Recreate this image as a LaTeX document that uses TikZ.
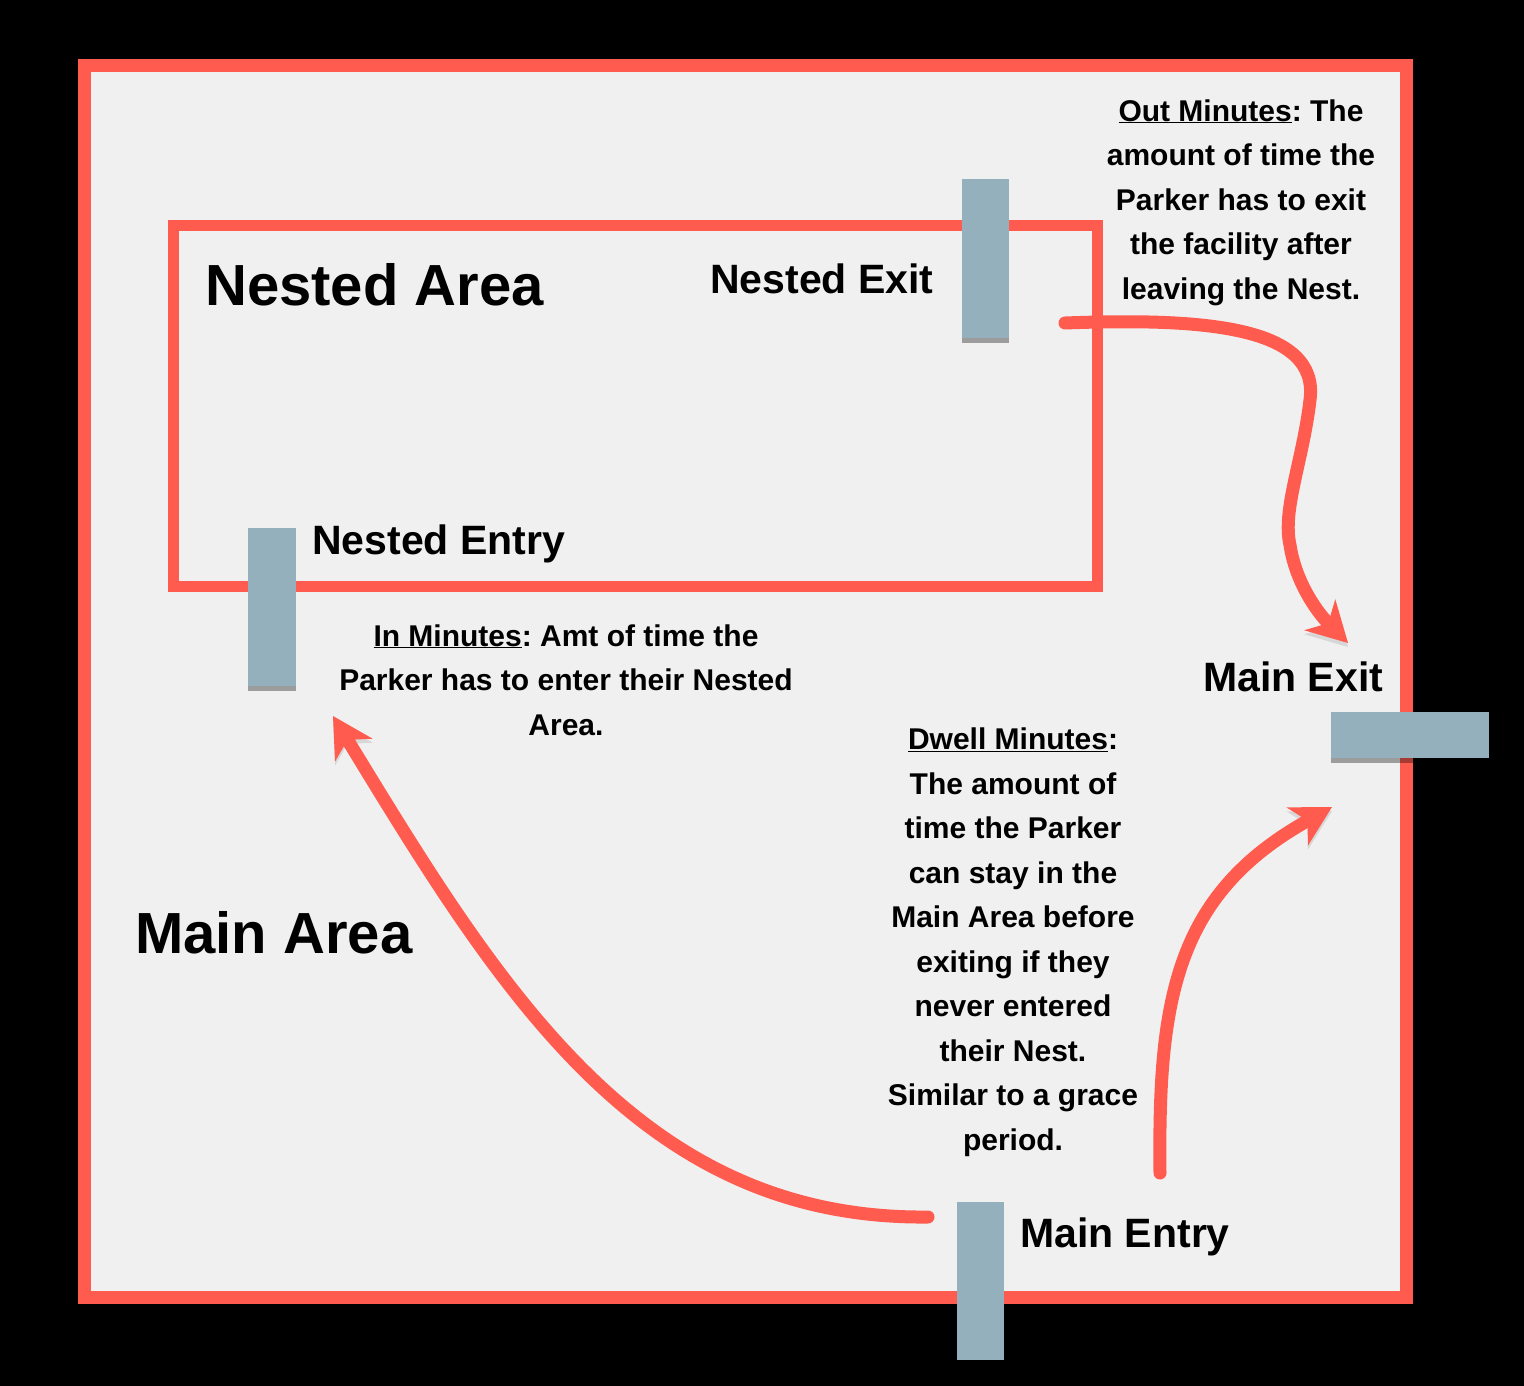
\documentclass[tikz,border=0pt]{standalone}
\usepackage{fontspec}
\setmainfont{Liberation Sans}
\usetikzlibrary{arrows.meta,shadows}
\frenchspacing

\definecolor{areaRed}{RGB}{255,91,79}
\definecolor{gateBlue}{RGB}{148,176,189}
\definecolor{floorGray}{RGB}{240,240,240}

\newcommand{\areafont}{\fontsize{58}{70}\selectfont\bfseries}
\newcommand{\gatefont}{\fontsize{41}{49}\selectfont\bfseries}
\newcommand{\notefont}{\fontsize{30}{44.5}\selectfont\bfseries}

\tikzset{
  gate/.style={fill=gateBlue, inner sep=0pt, draw=none,
    drop shadow={shadow xshift=0pt, shadow yshift=-5pt, opacity=0.35, fill=black}},
  flow/.style={draw=areaRed, line width=13pt, line cap=round,
    -{Stealth[length=40pt,width=44pt,inset=12pt,line width=0pt]},
    preaction={draw=black, opacity=0.1, transform canvas={yshift=-4pt}}},
  note/.style={align=center, font=\notefont, inner sep=0pt, anchor=base},
}

\begin{document}
\begin{tikzpicture}[x=1pt,y=1pt,yscale=-1,xscale=1]
\useasboundingbox (0,0) rectangle (1524,1386);
\fill[black] (0,0) rectangle (1524,1386);

%Shape: Rectangle [main area]
\draw[areaRed, line width=13pt, fill=floorGray] (84.5,65.5) rectangle (1406.5,1297);
%Shape: Rectangle [nested area]
\draw[areaRed, line width=11pt,
  preaction={draw=black, opacity=0.25, transform canvas={yshift=-5pt}}] (173,225) rectangle (1097,586);

%Coordinates for the flows
\coordinate (outStart) at (1065,323);
\coordinate (outTip) at (1348,643);
\coordinate (inStart) at (928,1217);
\coordinate (inTip) at (333,716);
\coordinate (dwellStart) at (1160,1173);
\coordinate (dwellTip) at (1332,807);

%Curve Lines [nest to main exit]
\draw[flow] (outStart) .. controls (1200,318) and (1320,325) .. (1310,400) .. controls (1303,460) and (1282,510) .. (1290,545) .. controls (1296,585) and (1320,615) .. (outTip);
%Curve Lines [main entry to nest]
\draw[flow] (inStart) .. controls (640,1220) and (500,990) .. (inTip);
%Curve Lines [main entry to main exit]
\draw[flow] (dwellStart) .. controls (1158,1000) and (1175,895) .. (dwellTip);

%Shape: Gates
\node[gate, minimum width=47pt, minimum height=159pt] (nestExit) at (985.5,258.5) {};
\node[gate, minimum width=48pt, minimum height=158pt] (nestEntry) at (272,607) {};
\node[gate, minimum width=158pt, minimum height=46pt] (mainExit) at (1410,735) {};
\node[gate, minimum width=47pt, minimum height=158pt] (mainEntry) at (980.5,1281) {};

% Text Node
\node[anchor=base west, inner sep=0pt, font=\areafont] (nestAreaLbl) at (205,305) {Nested Area};
% Text Node
\node[anchor=base west, inner sep=0pt, font=\areafont] (mainAreaLbl) at (135,953) {Main Area};
% Text Node
\node[anchor=base west, inner sep=0pt, font=\gatefont] (nestExitLbl) at (710,293) {Nested Exit};
% Text Node
\node[anchor=base west, inner sep=0pt, font=\gatefont] (nestEntryLbl) at (312,554) {Nested Entry};
% Text Node
\node[anchor=base west, inner sep=0pt, font=\gatefont] (mainExitLbl) at (1203,691) {Main Exit};
% Text Node
\node[anchor=base west, inner sep=0pt, font=\gatefont] (mainEntryLbl) at (1020,1247) {Main Entry};

% Text Node (base = last line)
\node[note] (outNote) at (1241,299) {\underline{Out Minutes}: The\\amount of time the\\Parker has to exit\\the facility after\\leaving the Nest.};
% Text Node
\node[note] (inNote) at (566,735) {\underline{In Minutes}: Amt of time the\\Parker has to enter their Nested\\Area.};
% Text Node
\node[note] (dwellNote) at (1013,1150) {\underline{Dwell Minutes}:\\The amount of\\time the Parker\\can stay in the\\Main Area before\\exiting if they\\never entered\\their Nest.\\Similar to a grace\\period.};

\end{tikzpicture}
\end{document}
